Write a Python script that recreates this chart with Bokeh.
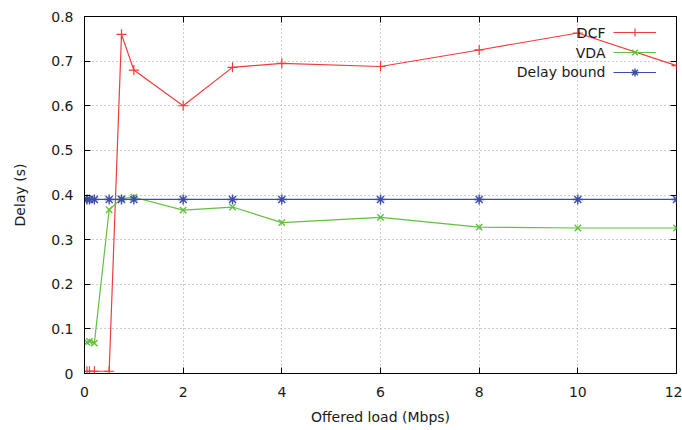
from bokeh.plotting import figure
from bokeh.models import (ColumnDataSource, FixedTicker, LinearAxis, Legend,
                          LegendItem, Label, Range1d)
from bokeh.embed import file_html
from bokeh.resources import INLINE

# ---- data ----
load = [0.05, 0.1, 0.2, 0.5, 0.75, 1, 2, 3, 4, 6, 8, 10, 12]
dcf = [0.005, 0.005, 0.005, 0.005, 0.76, 0.68, 0.60, 0.686, 0.695, 0.688, 0.725, 0.763, 0.69]
vda = [0.07, 0.072, 0.068, 0.367, 0.392, 0.395, 0.366, 0.373, 0.338, 0.35, 0.328, 0.326, 0.326]
bound = [0.39, 0.39, 0.39, 0.39, 0.39, 0.39, 0.39, 0.39, 0.39, 0.39, 0.39, 0.39, 0.39]

x_ticks = [0, 2, 4, 6, 8, 10, 12]
y_ticks = [0, 0.1, 0.2, 0.3, 0.4, 0.5, 0.6, 0.7, 0.8]
y_tick_labels = ["0", "0.1", "0.2", "0.3", "0.4", "0.5", "0.6", "0.7", "0.8"]
series_names = ["DCF", "VDA", "Delay bound"]

RED = "#f03c3c"
GREEN = "#62c040"
BLUE = "#3c4ca8"
FONT = "DejaVu Sans"
FS = "14px"
TXT = "#1a1a1a"

src = ColumnDataSource(dict(x=load, dcf=dcf, vda=vda, bound=bound))

p = figure(width=682, height=430, output_backend="svg", toolbar_location=None,
           x_range=Range1d(0, 12), y_range=Range1d(0, 0.8),
           min_border_left=84, min_border_right=6, min_border_top=16,
           min_border_bottom=57, background_fill_color="white",
           border_fill_color="white")
p.outline_line_color = "black"
p.outline_line_width = 1

# axes
p.xaxis.ticker = FixedTicker(ticks=x_ticks)
p.yaxis.ticker = FixedTicker(ticks=y_ticks)
p.yaxis.major_label_overrides = {t: l for t, l in zip(y_ticks, y_tick_labels)}
p.xaxis.axis_label = "Offered load (Mbps)"
p.yaxis.axis_label = "Delay (s)"
for ax in (p.xaxis[0], p.yaxis[0]):
    ax.major_tick_in = 6
    ax.major_tick_out = 0
    ax.minor_tick_line_color = None
    ax.major_tick_line_color = "black"
    ax.axis_line_color = "black"
    ax.major_label_text_font = FONT
    ax.major_label_text_font_size = FS
    ax.major_label_text_color = TXT
    ax.axis_label_text_font = FONT
    ax.axis_label_text_font_size = FS
    ax.axis_label_text_font_style = "normal"
    ax.axis_label_text_color = TXT
p.yaxis.major_label_standoff = 11
p.yaxis.axis_label_standoff = 20
p.xaxis.major_label_standoff = 13
p.xaxis.axis_label_standoff = 9

# mirrored ticks (top and right)
for side in ("right", "above"):
    ax = LinearAxis(ticker=FixedTicker(ticks=y_ticks if side == "right" else x_ticks))
    ax.major_tick_in = 6
    ax.major_tick_out = 0
    ax.minor_tick_line_color = None
    ax.axis_line_color = None
    ax.major_label_text_font_size = "0px"
    ax.major_label_standoff = 0
    ax.major_label_text_alpha = 0
    p.add_layout(ax, side)

# grid
for g in (p.xgrid[0], p.ygrid[0]):
    g.grid_line_color = "#9a9a9a"
    g.grid_line_dash = "1 3"
    g.grid_line_width = 1

# series
r_dcf_l = p.line("x", "dcf", source=src, color=RED, line_width=1.2)
r_dcf_m = p.scatter("x", "dcf", source=src, marker="cross", size=10, color=RED, line_width=1.2)
r_vda_l = p.line("x", "vda", source=src, color=GREEN, line_width=1.2)
r_vda_m = p.scatter("x", "vda", source=src, marker="x", size=9, color=GREEN, line_width=1.4)
r_b_l = p.line("x", "bound", source=src, color=BLUE, line_width=1.2)
r_b_m = p.scatter("x", "bound", source=src, marker="asterisk", size=10, color=BLUE, line_width=1.4)

# legend (gnuplot style: text right-aligned, sample on the right)
legend = Legend(items=[
    LegendItem(label="", renderers=[r_dcf_l, r_dcf_m]),
    LegendItem(label="", renderers=[r_vda_l, r_vda_m]),
    LegendItem(label="", renderers=[r_b_l, r_b_m]),
], location=(529, 291), padding=0, margin=0, spacing=0, glyph_width=43,
    glyph_height=20, label_height=20, label_width=0, label_standoff=0,
    border_line_alpha=0, background_fill_alpha=0, label_text_font_size="1px")
p.add_layout(legend)

label_y = [0.764, 0.719, 0.675]
for name, ly in zip(series_names, label_y):
    p.add_layout(Label(x=10.56, y=ly, text=name, text_align="right",
                       text_baseline="middle", text_font=FONT,
                       text_font_size=FS, text_color=TXT))

open("out.html", "w").write(file_html(p, INLINE))
